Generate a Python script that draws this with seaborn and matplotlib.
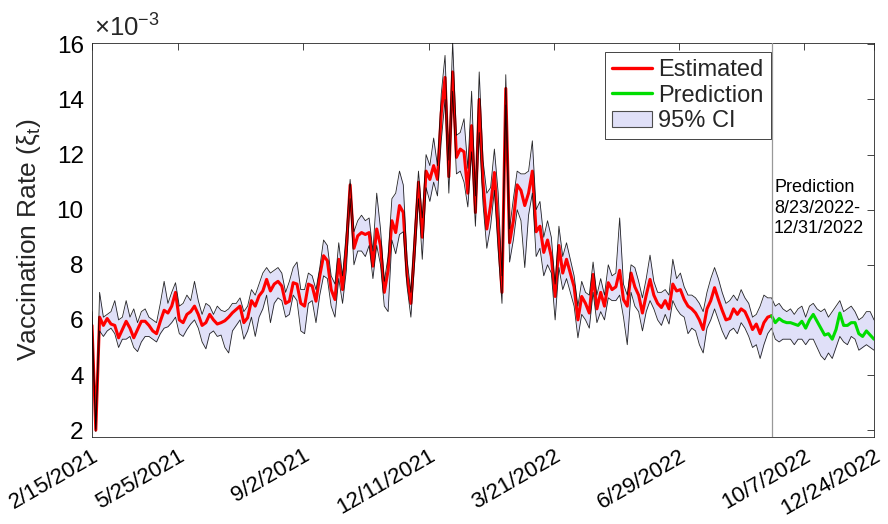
import numpy as np
import pandas as pd
import matplotlib
matplotlib.use("Agg")
import matplotlib.pyplot as plt
from matplotlib.lines import Line2D
from matplotlib.patches import Patch
import seaborn as sns

# ---------------- data (values in units of 1e-3) ----------------
step_days = 3  # sampling step of the series (day index units)

estimated = [
    5.8, 2.0, 6.1, 5.8, 6.05, 5.85, 5.8, 5.35, 5.65, 5.95, 5.7, 5.35, 5.65, 5.95, 5.95, 5.8, 5.6, 5.5,
    5.95, 6.35, 6.25, 6.5, 7.0, 6.0, 5.9, 6.2, 6.3, 6.5, 6.2, 5.8, 5.9, 6.2, 6.0, 5.85, 5.9,
    5.97, 6.1, 6.26, 6.38, 6.5, 5.9, 6.08, 6.7, 6.5, 6.87, 7.05, 7.47, 7.05, 7.3, 7.4, 7.23, 6.6, 6.68,
    7.35, 7.3, 6.6, 6.5, 7.3, 7.23, 6.68, 7.6, 8.33, 8.15, 7.1, 6.74, 8.2, 7.1, 8.57, 10.9, 8.6,
    9.05, 9.17, 9.1, 9.17, 7.95, 9.3, 8.7, 7.0, 7.8, 9.6, 9.17, 10.15, 9.9, 7.6, 6.6, 8.7, 11.0, 9.0,
    11.4, 11.1, 11.6, 11.1, 13.5, 14.8, 11.2, 15.0, 11.9, 12.2, 12.1, 10.6, 13.05, 9.9, 14.0, 11.0, 9.3,
    10.15, 11.35, 9.3, 7.0, 14.4, 8.8, 9.6, 10.9, 10.7, 10.15, 10.6, 11.4, 9.2, 9.4, 8.45, 8.9, 8.3, 6.85,
    8.7, 7.7, 8.2, 7.7, 7.2, 6.0, 6.85, 6.6, 6.25, 7.65, 6.4, 7.0, 6.5, 7.35, 7.1, 7.2, 7.8,
    6.74, 6.5, 7.7, 7.2, 6.9, 6.25, 6.9, 7.47, 6.9, 6.6, 6.45, 6.7, 6.4, 7.3, 7.05, 7.1, 6.74, 6.5,
    6.4, 6.25, 6.0, 5.65, 6.4, 6.7, 7.17, 6.74, 6.35, 6.0, 6.05, 6.4, 6.2, 6.4, 6.3, 6.0, 5.65, 5.85,
    5.5, 5.9, 6.1, 6.15,
]

prediction = [
    6.15, 5.9, 6.05, 5.95, 5.9, 5.9, 5.85, 5.8, 5.95, 5.7, 6.0, 6.2, 5.95, 5.7, 5.45, 5.5, 5.3, 5.65,
    6.25, 5.8, 5.8, 5.9, 5.9, 5.5, 5.4, 5.6, 5.45, 5.3,
]

ci_lower = [
    5.6, 1.95, 5.6, 5.4, 5.6, 5.7, 5.5, 5.0, 5.3, 5.3, 5.4, 5.0, 4.85, 5.2, 5.4, 5.4, 5.3, 5.2,
    5.5, 5.7, 5.75, 5.9, 6.1, 5.5, 5.4, 5.65, 5.85, 6.0, 5.7, 5.2, 4.95, 5.5, 5.6, 5.4, 5.45,
    5.0, 4.8, 5.6, 5.8, 6.0, 5.3, 5.6, 6.1, 5.4, 6.1, 6.4, 6.9, 5.9, 6.6, 6.8, 6.7, 6.1, 6.2,
    6.9, 6.7, 5.6, 5.5, 6.6, 6.7, 5.9, 6.9, 7.6, 7.5, 6.5, 6.1, 7.5, 6.6, 7.8, 10.4, 8.0,
    8.5, 8.5, 8.3, 8.7, 7.5, 8.7, 8.0, 6.5, 6.3, 8.9, 8.4, 9.1, 9.2, 7.2, 6.1, 8.1, 10.4, 8.2,
    10.8, 10.3, 11.0, 10.5, 12.5, 14.0, 10.6, 14.3, 11.3, 11.4, 11.0, 10.1, 12.1, 9.4, 12.8, 10.2, 8.6,
    9.4, 10.7, 8.5, 6.6, 13.8, 8.1, 8.9, 10.0, 9.6, 7.9, 9.8, 10.6, 8.3, 8.6, 7.6, 8.0, 7.7, 6.0,
    7.9, 7.1, 7.5, 7.0, 6.5, 5.35, 6.2, 6.0, 5.7, 7.0, 5.9, 6.3, 6.0, 6.8, 6.7, 6.7, 6.9,
    6.1, 5.1, 7.0, 6.5, 6.3, 5.6, 6.3, 6.7, 6.4, 6.0, 5.8, 6.2, 5.85, 6.7, 6.4, 6.2, 6.1, 5.5,
    5.7, 5.6, 5.1, 4.8, 5.7, 6.0, 6.4, 6.0, 5.6, 5.3, 5.6, 5.7, 5.5, 5.9, 5.7, 5.4, 5.0, 5.1,
    4.6, 5.1, 5.5, 5.7,
    5.3, 5.2, 5.3, 5.3, 5.3, 5.1, 5.3, 5.3, 5.1, 5.3, 5.3, 5.0, 4.7, 4.55, 4.8, 4.6, 5.0, 5.4,
    5.2, 5.1, 5.4, 5.3, 4.9, 5.0, 5.1, 5.0, 4.9,
]

ci_upper = [
    6.3, 2.05, 7.0, 6.1, 6.2, 6.3, 6.7, 6.0, 6.1, 6.7, 6.1, 6.4, 5.9, 6.3, 6.4, 6.1, 6.0, 5.9,
    6.6, 7.4, 6.6, 7.0, 7.35, 6.5, 6.6, 6.9, 6.7, 7.4, 6.7, 6.2, 6.6, 6.5, 6.2, 6.5, 6.35,
    6.3, 6.4, 6.6, 6.6, 6.8, 6.3, 6.5, 7.1, 6.9, 7.3, 7.7, 7.9, 7.7, 7.8, 7.9, 7.7, 7.0, 7.4,
    7.9, 8.1, 7.1, 7.1, 7.7, 7.6, 7.1, 7.9, 8.9, 8.7, 7.6, 7.3, 8.8, 7.6, 9.2, 11.1, 9.2,
    9.6, 9.8, 9.6, 9.7, 8.5, 10.6, 9.3, 7.4, 8.3, 10.4, 10.6, 11.4, 10.9, 8.2, 7.0, 9.3, 11.4, 9.7,
    12.0, 11.6, 12.6, 11.6, 14.2, 15.6, 11.8, 16.1, 12.7, 12.8, 13.3, 11.5, 14.3, 10.5, 15.0, 11.8, 10.6,
    10.8, 12.2, 10.6, 7.6, 14.9, 9.3, 10.4, 11.4, 11.3, 11.3, 11.4, 12.5, 10.0, 10.3, 9.0, 9.6, 9.0, 7.3,
    9.4, 8.3, 8.8, 8.2, 7.6, 6.5, 7.4, 7.0, 6.9, 8.1, 6.9, 7.5, 6.9, 8.0, 7.6, 7.7, 9.7,
    7.3, 6.9, 8.0, 7.9, 7.4, 6.8, 7.5, 8.35, 7.4, 7.0, 7.0, 7.1, 6.9, 8.2, 7.5, 7.7, 7.2, 6.9,
    6.9, 6.8, 6.6, 6.3, 7.0, 7.5, 7.9, 7.5, 7.0, 6.6, 6.7, 6.9, 6.7, 7.1, 6.8, 6.6, 6.1, 6.2,
    6.5, 6.9, 6.8, 6.8,
    6.5, 6.6, 6.4, 6.3, 6.4, 6.2, 6.4, 6.5, 6.1, 6.5, 6.6, 6.4, 6.3, 6.4, 6.1, 6.3, 6.5, 6.7,
    6.3, 6.4, 6.5, 6.3, 6.0, 6.1, 6.3, 6.3, 6.0,
]

tick_days = [0, 68, 167, 266, 365, 464, 563, 618]
tick_labels = ["2/15/2021", "5/25/2021", "9/2/2021", "12/11/2021",
               "3/21/2022", "6/29/2022", "10/7/2022", "12/24/2022"]
y_ticks = [2, 4, 6, 8, 10, 12, 14, 16]

# ---------------- frames ----------------
n_all = len(ci_lower)
day = np.arange(n_all) * step_days
n_est = len(estimated)
df_ci = pd.DataFrame({"day": day, "lower": ci_lower, "upper": ci_upper})
df_est = pd.DataFrame({"day": day[:n_est], "value": estimated})
df_pred = pd.DataFrame({"day": day[n_est - 1:n_est - 1 + len(prediction)], "value": prediction})
pred_start = day[n_est - 1]

# ---------------- style ----------------
sns.set_theme(style="white")
plt.rcParams["font.family"] = ["Liberation Sans", "DejaVu Sans"]
plt.rcParams["mathtext.fontset"] = "custom"
plt.rcParams["mathtext.rm"] = "Liberation Sans"
plt.rcParams["mathtext.it"] = "Liberation Sans:italic"

axis_col = "0.15"
fig = plt.figure(figsize=(8.88, 5.24), dpi=100)
ax = fig.add_axes([92 / 888, 1 - 437 / 524, 782 / 888, 394 / 524])

ci_face = (0.878, 0.878, 0.973)
ax.fill_between(df_ci["day"], df_ci["lower"], df_ci["upper"], color=ci_face, lw=0, zorder=1)
sns.lineplot(data=df_est, x="day", y="value", color="red", lw=2.2, ax=ax, zorder=2)
sns.lineplot(data=df_pred, x="day", y="value", color="#00dd00", lw=2.2, ax=ax, zorder=2)
sns.lineplot(data=df_ci, x="day", y="lower", color="black", lw=0.6, alpha=0.85, ax=ax, zorder=3)
sns.lineplot(data=df_ci, x="day", y="upper", color="black", lw=0.6, alpha=0.85, ax=ax, zorder=3)

ax.axvline(pred_start, color="0.6", lw=0.9, zorder=4)
ax.text(pred_start + 2, 11.1, "Prediction\n8/23/2022-\n12/31/2022", fontsize=13,
        va="top", ha="left", linespacing=1.25, color="black")

ax.set_xlim(day[0], day[-1])
ax.set_ylim(1.75, 16.05)
ax.set_xticks(tick_days)
ax.set_xticklabels(tick_labels, rotation=30, ha="right", rotation_mode="anchor", fontsize=16)
ax.set_yticks(y_ticks)
ax.set_yticklabels([str(v) for v in y_ticks], fontsize=17.5)
ax.set_xlabel("")
ax.set_ylabel("Vaccination Rate (ξ$_{\\mathrm{t}}$)", fontsize=19, labelpad=10)

ax.tick_params(direction="in", length=5, width=0.6, color=axis_col, top=True, right=True,
               labelcolor="black", pad=6)
ax.tick_params(axis="x", pad=6)
for s in ax.spines.values():
    s.set_color(axis_col)
    s.set_linewidth(0.6)

ax.text(0.003, 1.004, r"$\times$10$^{-3}$", transform=ax.transAxes, va="bottom", ha="left",
        fontsize=18.5)

handles = [
    Line2D([0], [0], color="red", lw=2.4),
    Line2D([0], [0], color="#00dd00", lw=2.4),
    Patch(facecolor=ci_face, edgecolor="0.3", linewidth=0.8),
]
leg = ax.legend(handles, ["Estimated", "Prediction", "95% CI"], loc="upper right",
                bbox_to_anchor=(0.868, 0.977), borderaxespad=0, fontsize=17,
                frameon=True, fancybox=False, framealpha=1, edgecolor=axis_col,
                handlelength=1.7, handletextpad=0.25, labelspacing=0.15, borderpad=0.3)
leg.get_frame().set_linewidth(0.6)

fig.savefig("out.png", dpi=100)
